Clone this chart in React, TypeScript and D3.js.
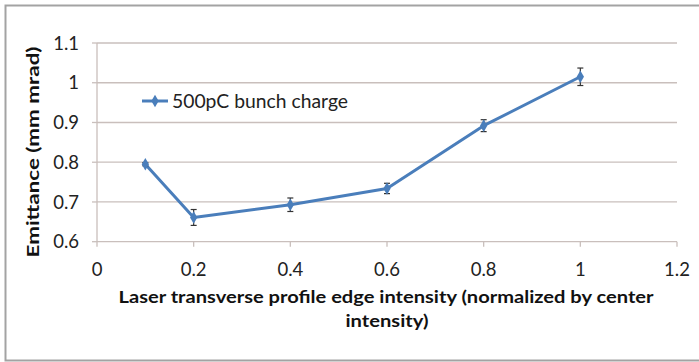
import React from "react";
import * as d3 from "d3";

const edgeIntensity = [0.1, 0.2, 0.4, 0.6, 0.8, 1.0];
const emittance = [0.795, 0.661, 0.693, 0.734, 0.892, 1.015];
const emittanceErr = [0.004, 0.02, 0.017, 0.013, 0.015, 0.022];
const xTicks = [0, 0.2, 0.4, 0.6, 0.8, 1.0, 1.2];
const yTicks = [0.6, 0.7, 0.8, 0.9, 1.0, 1.1];
const seriesName = "500pC bunch charge";
const xTitleLines = [
  "Laser transverse profile edge intensity (normalized by center",
  "intensity)",
];
const yTitle = "Emittance (mm mrad)";

const W = 699;
const H = 362;
const FONT = "Lato, 'Open Sans', sans-serif";
const BLUE = "#4a7ebb";
const GRID = "#c9bfbc";

export default function App() {
  const x = d3.scaleLinear().domain([0, 1.2]).range([97, 677]);
  const y = d3.scaleLinear().domain([0.6, 1.1]).range([241.7, 43]);
  const fmt = (v: number) => d3.format("~g")(v);

  const pts = edgeIntensity.map((v, i) => ({
    x: v,
    y: emittance[i],
    e: emittanceErr[i],
  }));
  const line = d3
    .line<{ x: number; y: number }>()
    .x((d) => x(d.x))
    .y((d) => y(d.y));

  const diamond = d3.symbol().type(d3.symbolDiamond).size(46)() as string;

  return (
    <svg
      width={W}
      height={H}
      style={{ position: "absolute", left: 0, top: 0, background: "#fff" }}
      fontFamily={FONT}
    >
      <rect x={0} y={0} width={W} height={H} fill="#fff" />
      {/* outer frame */}
      <path
        d={`M${W + 2},5.5 H5.5 V360.5 H${W + 2}`}
        fill="none"
        stroke="#a3a3a3"
        strokeWidth={2}
      />

      {/* horizontal gridlines */}
      {yTicks.map((t) => (
        <line
          key={"g" + t}
          x1={x(0)}
          x2={x(1.2)}
          y1={y(t)}
          y2={y(t)}
          stroke={GRID}
          strokeWidth={1.3}
        />
      ))}
      {/* y axis */}
      <line x1={x(0)} x2={x(0)} y1={y(1.1)} y2={y(0.6)} stroke={GRID} strokeWidth={1.3} />
      {yTicks.map((t) => (
        <line
          key={"yt" + t}
          x1={x(0) - 5}
          x2={x(0)}
          y1={y(t)}
          y2={y(t)}
          stroke={GRID}
          strokeWidth={1.3}
        />
      ))}
      {yTicks.map((t) => (
        <text
          key={"yl" + t}
          x={79}
          y={y(t)}
          dy="0.36em"
          textAnchor="end"
          fontSize={18.5}
          fill="#222"
        >
          {fmt(t)}
        </text>
      ))}
      {/* x axis ticks */}
      {xTicks.map((t) => (
        <line
          key={"xt" + t}
          x1={x(t)}
          x2={x(t)}
          y1={y(0.6)}
          y2={y(0.6) + 5}
          stroke={GRID}
          strokeWidth={1.3}
        />
      ))}
      {xTicks.map((t) => (
        <text
          key={"xl" + t}
          x={x(t)}
          y={276}
          textAnchor="middle"
          fontSize={18.5}
          fill="#222"
        >
          {fmt(t)}
        </text>
      ))}

      {/* axis titles */}
      <text
        x={386}
        y={303}
        textAnchor="middle"
        fontSize={17.5}
        fontWeight="bold"
        fill="#111"
        textLength={535}
        lengthAdjust="spacingAndGlyphs"
      >
        {xTitleLines[0]}
      </text>
      <text
        x={387}
        y={327}
        textAnchor="middle"
        fontSize={17.5}
        fontWeight="bold"
        fill="#111"
        textLength={83}
        lengthAdjust="spacingAndGlyphs"
      >
        {xTitleLines[1]}
      </text>
      <text
        transform={`translate(33,152) rotate(-90)`}
        textAnchor="middle"
        dy="0.36em"
        fontSize={17.5}
        fontWeight="bold"
        fill="#111"
        textLength={211}
        lengthAdjust="spacingAndGlyphs"
      >
        {yTitle}
      </text>

      {/* series line */}
      <path d={line(pts) as string} fill="none" stroke={BLUE} strokeWidth={3} strokeLinejoin="round" />

      {/* error bars */}
      {pts.map((p, i) => (
        <g key={"e" + i} stroke="#333" strokeWidth={1.2}>
          <line x1={x(p.x)} x2={x(p.x)} y1={y(p.y - p.e)} y2={y(p.y + p.e)} />
          <line x1={x(p.x) - 3} x2={x(p.x) + 3} y1={y(p.y - p.e)} y2={y(p.y - p.e)} />
          <line x1={x(p.x) - 3} x2={x(p.x) + 3} y1={y(p.y + p.e)} y2={y(p.y + p.e)} />
        </g>
      ))}

      {/* markers */}
      {pts.map((p, i) => (
        <path key={"m" + i} d={diamond} transform={`translate(${x(p.x)},${y(p.y)})`} fill={BLUE} />
      ))}

      {/* legend */}
      <line x1={142} x2={168} y1={101} y2={101} stroke={BLUE} strokeWidth={3} />
      <path d={diamond} transform="translate(155,101)" fill={BLUE} />
      <text
        x={172}
        y={107.5}
        fontSize={18.5}
        fill="#222"
        textLength={176}
        lengthAdjust="spacingAndGlyphs"
      >
        {seriesName}
      </text>
    </svg>
  );
}
